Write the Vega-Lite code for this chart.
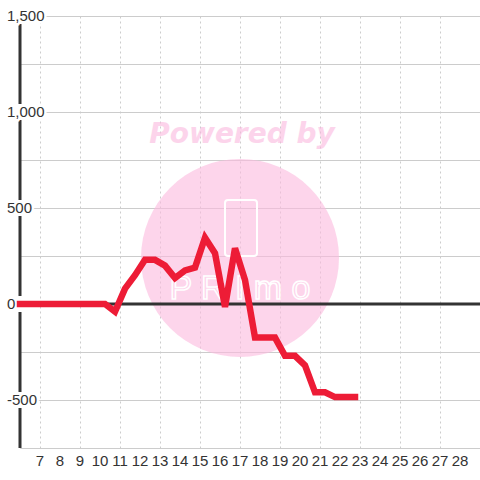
{
  "$schema": "https://vega.github.io/schema/vega-lite/v6.json",
  "width": 460,
  "height": 432,
  "autosize": {"type": "none"},
  "padding": {"left": 20, "top": 16, "right": 0, "bottom": 32},
  "background": "#ffffff",
  "config": {"view": {"stroke": null}, "font": "Liberation Sans"},
  "datasets": {
    "series": [
      {"day": 6, "value": 0},
      {"day": 10.25, "value": 0},
      {"day": 10.75, "value": -40},
      {"day": 11.25, "value": 80},
      {"day": 11.75, "value": 150},
      {"day": 12.25, "value": 230},
      {"day": 12.75, "value": 230},
      {"day": 13.25, "value": 200},
      {"day": 13.75, "value": 135},
      {"day": 14.25, "value": 175},
      {"day": 14.75, "value": 190},
      {"day": 15.25, "value": 345},
      {"day": 15.75, "value": 265},
      {"day": 16.25, "value": -15},
      {"day": 16.75, "value": 290},
      {"day": 17.25, "value": 125},
      {"day": 17.75, "value": -175},
      {"day": 18.25, "value": -175},
      {"day": 18.75, "value": -175},
      {"day": 19.25, "value": -270},
      {"day": 19.75, "value": -270},
      {"day": 20.25, "value": -320},
      {"day": 20.75, "value": -460},
      {"day": 21.25, "value": -460},
      {"day": 21.75, "value": -485},
      {"day": 22.25, "value": -485},
      {"day": 22.75, "value": -485}
    ],
    "ticks": [
      {"v": -500, "label": "-500"},
      {"v": 0, "label": "0"},
      {"v": 500, "label": "500"},
      {"v": 1000, "label": "1,000"},
      {"v": 1500, "label": "1,500"}
    ],
    "xticks": [
      {"d": 7}, {"d": 8}, {"d": 9}, {"d": 10}, {"d": 11}, {"d": 12}, {"d": 13}, {"d": 14},
      {"d": 15}, {"d": 16}, {"d": 17}, {"d": 18}, {"d": 19}, {"d": 20}, {"d": 21}, {"d": 22},
      {"d": 23}, {"d": 24}, {"d": 25}, {"d": 26}, {"d": 27}, {"d": 28}
    ]
  },
  "layer": [
    {
      "data": {"name": "series"},
      "mark": {"type": "line", "opacity": 0},
      "encoding": {
        "x": {
          "field": "day", "type": "quantitative",
          "scale": {"domain": [6, 29], "nice": false, "zero": false},
          "axis": {
            "title": null,
            "values": [7, 8, 9, 10, 11, 12, 13, 14, 15, 16, 17, 18, 19, 20, 21, 22, 23, 24, 25, 26, 27, 28],
            "labels": false,
            "grid": true, "gridColor": "#cccccc", "gridDash": [2, 3], "gridWidth": 1,
            "domain": true, "domainColor": "#cccccc", "domainWidth": 1,
            "ticks": false
          }
        },
        "y": {
          "field": "value", "type": "quantitative",
          "scale": {"domain": [-750, 1500], "nice": false, "zero": false},
          "axis": {
            "title": null,
            "values": [-750, -500, -250, 0, 250, 500, 750, 1000, 1250, 1500],
            "grid": true, "gridColor": "#cccccc", "gridWidth": 1,
            "labels": false, "ticks": false, "domain": false
          }
        }
      }
    },
    {
      "data": {"values": [{}]},
      "mark": {"type": "point", "shape": "circle", "filled": true, "fill": "#fbb9de", "opacity": 0.6, "size": 39200, "strokeWidth": 0},
      "encoding": {"x": {"datum": 17}, "y": {"datum": 240}}
    },
    {
      "data": {"values": [{"t": "Powered by"}]},
      "mark": {"type": "text", "font": "DejaVu Sans", "fontWeight": "bold", "fontStyle": "italic", "fontSize": 28, "fill": "#fbb9de", "opacity": 0.6, "align": "center", "baseline": "middle"},
      "encoding": {"x": {"datum": 17.1}, "y": {"datum": 880}, "text": {"field": "t"}}
    },
    {
      "data": {"values": [{}]},
      "mark": {"type": "rect", "fill": null, "fillOpacity": 0, "stroke": "#ffffff", "strokeWidth": 2, "cornerRadius": 3},
      "encoding": {"x": {"datum": 16.25}, "x2": {"datum": 17.85}, "y": {"datum": 542}, "y2": {"datum": 250}}
    },
    {
      "data": {"values": [{"t": "P R I m o"}]},
      "mark": {"type": "text", "fontSize": 34, "fill": null, "fillOpacity": 0, "stroke": "#ffffff", "strokeWidth": 1.5, "align": "center", "baseline": "middle"},
      "encoding": {"x": {"datum": 17}, "y": {"datum": 80}, "text": {"field": "t"}}
    },
    {
      "data": {"values": [{}]},
      "mark": {"type": "rule", "color": "#333333", "strokeWidth": 3},
      "encoding": {"x": {"datum": 6}}
    },
    {
      "data": {"values": [{}]},
      "mark": {"type": "rule", "color": "#333333", "strokeWidth": 3},
      "encoding": {"y": {"datum": 0}}
    },
    {
      "data": {"name": "ticks"},
      "mark": {"type": "point", "shape": "square", "filled": true, "fill": "#ffffff", "opacity": 1, "size": 256, "strokeWidth": 0},
      "encoding": {"x": {"datum": 6}, "y": {"field": "v", "type": "quantitative"}}
    },
    {
      "data": {"name": "ticks"},
      "mark": {"type": "text", "align": "left", "baseline": "middle", "dx": -13, "fontSize": 15, "fill": "#ffffff", "stroke": "#ffffff", "strokeWidth": 5},
      "encoding": {"x": {"datum": 6}, "y": {"field": "v", "type": "quantitative"}, "text": {"field": "label"}}
    },
    {
      "data": {"name": "series"},
      "mark": {"type": "line", "color": "#ed1c36", "strokeWidth": 6.5, "strokeCap": "square"},
      "encoding": {
        "x": {"field": "day", "type": "quantitative"},
        "y": {"field": "value", "type": "quantitative"}
      }
    },
    {
      "data": {"name": "ticks"},
      "mark": {"type": "text", "align": "left", "baseline": "middle", "dx": -13, "fontSize": 15, "fill": "#333333"},
      "encoding": {"x": {"datum": 6}, "y": {"field": "v", "type": "quantitative"}, "text": {"field": "label"}}
    },
    {
      "data": {"name": "xticks"},
      "mark": {"type": "text", "align": "center", "baseline": "middle", "dy": 13, "fontSize": 15, "fill": "#333333"},
      "encoding": {"x": {"field": "d", "type": "quantitative"}, "y": {"datum": -750}, "text": {"field": "d", "type": "quantitative"}}
    }
  ]
}
